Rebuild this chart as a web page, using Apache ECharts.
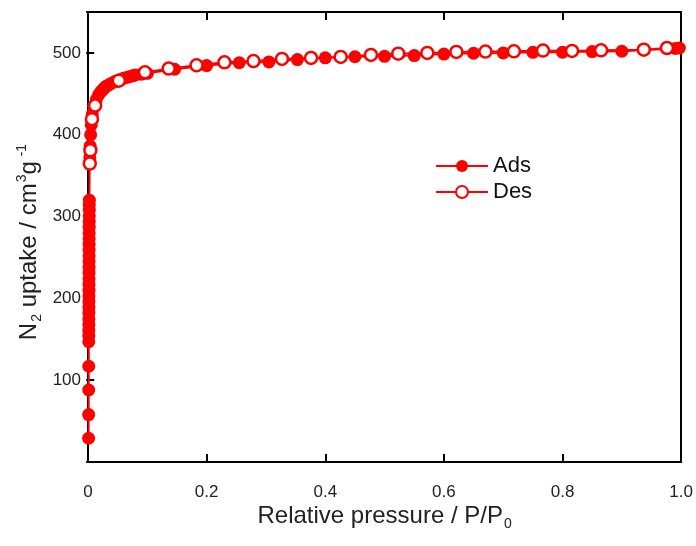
<!DOCTYPE html>
<html><head><meta charset="utf-8">
<script src="https://cdn.jsdelivr.net/npm/echarts@6/dist/echarts.min.js"></script>
<style>html,body{margin:0;padding:0;background:#fff}#c{width:696px;height:546px}</style>
</head><body><div id="c"></div>
<script>
// Adsorption branch (filled circles)
const adsX = [0.0010,0.0011,0.0012,0.0013,0.0013,0.0014,0.0014,0.0015,0.0015,0.0015,0.0016,0.0016,0.0016,0.0017,0.0017,0.0017,0.0018,0.0018,0.0018,0.0019,0.0019,0.0019,0.0020,0.0020,0.0020,0.0021,0.0021,0.0022,0.0022,0.0023,
  0.0030,0.0036,0.0045,0.0055,0.0072,0.0098,0.014,0.018,0.022,0.026,0.030,0.035,0.040,0.045,0.050,0.055,0.060,0.065,0.070,0.075,0.080,0.090,0.100,
  0.146,0.200,0.255,0.305,0.353,0.400,0.450,0.500,0.550,0.600,0.650,0.700,0.750,0.800,0.850,0.900,0.990,0.997];
const adsY = [29,58,88,117,147,154,161,168,175,182,189,196,203,210,217,224,231,238,245,252,259,266,273,280,287,294,301,308,314,320,
  372,386,400,412,425,435,443,449,453,456,459,461,463,465,466,467.5,469,470,471,472,473,474,475,
  480,484.5,488,489,491.8,494,495.3,495.8,496.7,498.6,499.6,500,500.7,500.8,501.6,502,505.5,506];
// Desorption branch (open circles)
const desX = [0.976,0.937,0.865,0.816,0.767,0.718,0.670,0.621,0.572,0.523,0.477,0.426,0.376,0.327,0.279,0.230,0.183,0.136,0.096,0.052,0.012,0.0067,0.0040,0.0030];
const desY = [506,504,503.2,502.4,502.8,502,501.6,501.2,500,499.1,497.5,495.1,493.9,492.6,490,488.5,484.8,480.8,476.3,466,435.6,419,381,364.7];
const xTickLabels = ['0','0.2','0.4','0.6','0.8','1.0'];
const yTickLabels = ['100','200','300','400','500'];
const seriesNames = ['Ads','Des'];

const FONT = "'Liberation Sans', Arial, sans-serif";
const RED = '#ff0000';
const chart = echarts.init(document.getElementById('c'), null, {renderer:'canvas'});
const pair = (xs, ys) => xs.map((x, i) => [x, ys[i]]);
const tick = (inside, len) => ({show:true, inside:inside, length:len, lineStyle:{color:'#000', width:2}});
const line = () => ({show:true, onZero:false, lineStyle:{color:'#000', width:2}});
chart.setOption({
  animation:false,
  backgroundColor:'#fff',
  grid:{left:88, right:13, top:12, bottom:84, containLabel:false},
  legend:{
    orient:'vertical', left:430, top:148, itemWidth:52, itemHeight:15, itemGap:0,
    data:seriesNames,
    textStyle:{fontSize:22, lineHeight:26, color:'#111', fontFamily:FONT}
  },
  xAxis:[{
    type:'value', min:0, max:1, interval:0.2, position:'bottom',
    axisLine:line(), axisTick:{show:false},
    splitLine:{show:false},
    axisLabel:{margin:22, fontSize:17, color:'#222', fontFamily:FONT,
      formatter:v => xTickLabels[Math.round(v/0.2)] ?? ''},
    name:'Relative pressure / P/P{sub|0}', nameLocation:'middle', nameGap:39, nameMoveOverlap:false,
    nameTextStyle:{fontSize:24, color:'#222', fontFamily:FONT,
      rich:{sub:{fontSize:14, fontFamily:FONT, color:'#222', padding:[16,0,0,1]}}}
  },{
    type:'value', min:0, max:1, interval:0.2, position:'top',
    axisLine:line(), axisTick:tick(true, 8), axisLabel:{show:false}, splitLine:{show:false}
  },{
    // tick marks along the bottom edge, pointing into the plot
    type:'value', min:0, max:1, interval:0.2, position:'top', offset:-450,
    axisLine:{show:false, onZero:false}, axisTick:tick(true, -8), axisLabel:{show:false}, splitLine:{show:false}
  }],
  yAxis:[{
    type:'value', min:0, max:550, interval:100, position:'left',
    axisLine:line(), axisTick:{show:false},
    splitLine:{show:false},
    axisLabel:{margin:7, fontSize:17, color:'#222', fontFamily:FONT,
      formatter:v => (v>=100 && v<=500 && v%100===0) ? yTickLabels[v/100-1] : ''},
    name:'N{sub|2} uptake / cm{sup|3}g{sup| -1}', nameLocation:'middle', nameGap:44, nameRotate:90, nameMoveOverlap:false,
    nameTextStyle:{fontSize:24, color:'#222', fontFamily:FONT, padding:[0,10,0,0],
      rich:{sub:{fontSize:14, fontFamily:FONT, color:'#222', padding:[16,0,0,1]},
            sup:{fontSize:14, fontFamily:FONT, color:'#222', padding:[0,0,14,1]}}}
  },{
    type:'value', min:0, max:550, interval:100, position:'right',
    axisLine:line(), axisTick:{show:false}, axisLabel:{show:false}, splitLine:{show:false}
  },{
    // tick marks along the left edge, pointing into the plot
    type:'value', min:0, max:550, interval:100, position:'right', offset:-595,
    axisLine:{show:false, onZero:false}, axisTick:tick(true, -8), axisLabel:{show:false}, splitLine:{show:false}
  }],
  series:[{
    name:'Ads', type:'line', xAxisIndex:0, yAxisIndex:0,
    data:pair(adsX, adsY), symbol:'circle', symbolSize:13, showAllSymbol:true,
    lineStyle:{color:RED, width:2}, itemStyle:{color:RED}, z:2
  },{
    name:'Des', type:'line', xAxisIndex:0, yAxisIndex:0,
    data:pair(desX, desY), symbol:'circle', symbolSize:12, showAllSymbol:true,
    lineStyle:{color:RED, width:2}, itemStyle:{color:'#fff', borderColor:RED, borderWidth:2.5}, z:3
  }]
});
</script></body></html>
